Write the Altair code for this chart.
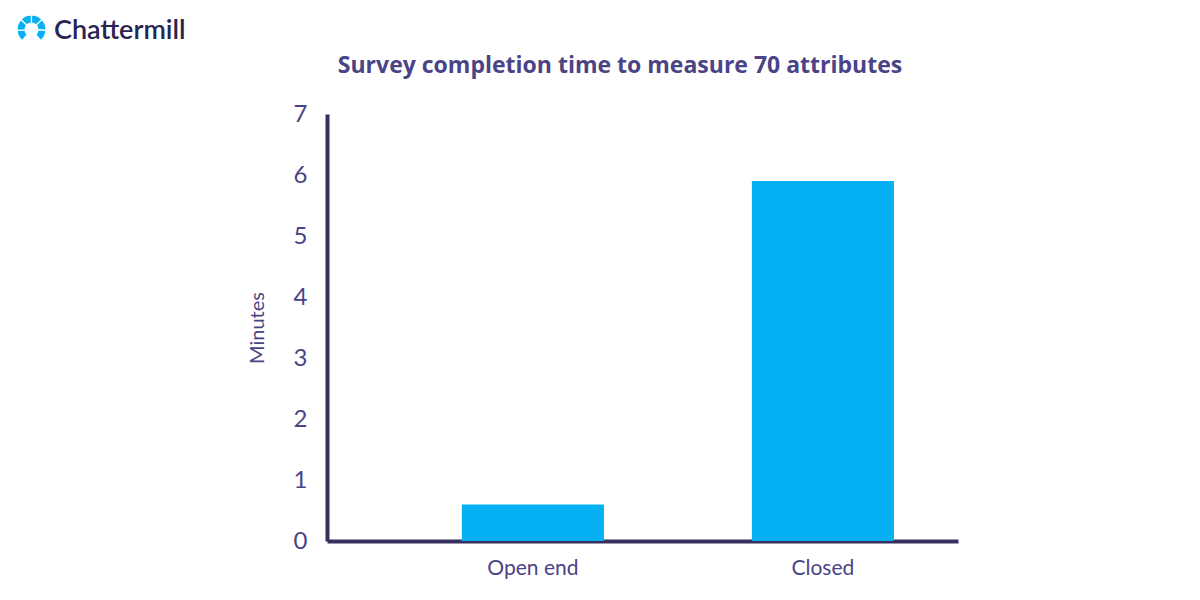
import altair as alt
import pandas as pd
import math

categories = ["Open end", "Closed"]
minutes = [0.6, 5.9]

TEXT = "#4a4386"
AXIS = "#37305f"
CYAN = "#05b1f2"

W, H = 631, 427
OX, OY = 327, 114  # plot origin on page

df = pd.DataFrame({"type": categories, "minutes": minutes})
one = pd.DataFrame({"a": [0]})

bars = alt.Chart(df).mark_bar(color=CYAN).encode(
    x=alt.X("type:N", sort=categories,
            scale=alt.Scale(paddingInner=0.51, paddingOuter=0.343, align=0.678),
            axis=alt.Axis(title=None, labelAngle=0, ticks=False, labelPadding=16,
                          labelFontSize=21, labelColor=TEXT, labelFont="Lato",
                          domainColor=AXIS, domainWidth=4)),
    y=alt.Y("minutes:Q", scale=alt.Scale(domain=[0, 7], nice=False),
            axis=alt.Axis(title="Minutes", values=list(range(8)), grid=False, ticks=False,
                          labelPadding=20, labelFontSize=24, labelColor=TEXT, labelFont="Lato",
                          titleFontSize=20, titleColor=TEXT, titleFont="Lato",
                          titleFontWeight="normal", titlePadding=26,
                          domainColor=AXIS, domainWidth=4)),
)

title = alt.Chart(one).mark_text(
    text="Survey completion time to measure 70 attributes",
    font="Open Sans", fontSize=23, fontWeight="bold", color=TEXT,
    align="center", baseline="middle",
).encode(x=alt.value(620 - OX), y=alt.value(66 - OY))

logo_text = alt.Chart(one).mark_text(
    text="Chattermill", font="Lato", fontSize=27, fontWeight=600, color="#2a2452",
    align="left", baseline="middle",
).encode(x=alt.value(54 - OX), y=alt.value(31 - OY))

layers = [bars, title, logo_text]
start = 220.0
span = 280.0
nseg = 6
for i in range(nseg):
    a0 = math.radians(start + span * i / nseg)
    a1 = math.radians(start + span * (i + 1) / nseg)
    layers.append(
        alt.Chart(one).mark_arc(theta=a0, theta2=a1, radius=14.5, radius2=6.5,
                                color=CYAN, stroke="white", strokeWidth=1.2)
        .encode(x=alt.value(31.5 - OX), y=alt.value(29.5 - OY))
    )

chart = alt.layer(*layers).properties(
    width=W, height=H,
    autosize=alt.AutoSizeParams(type="none"),
    padding={"left": OX - 8, "top": OY - 8, "right": 200, "bottom": 50},
).configure_view(stroke=None)

chart.save("out.html", embed_options={"renderer": "svg", "actions": False})
